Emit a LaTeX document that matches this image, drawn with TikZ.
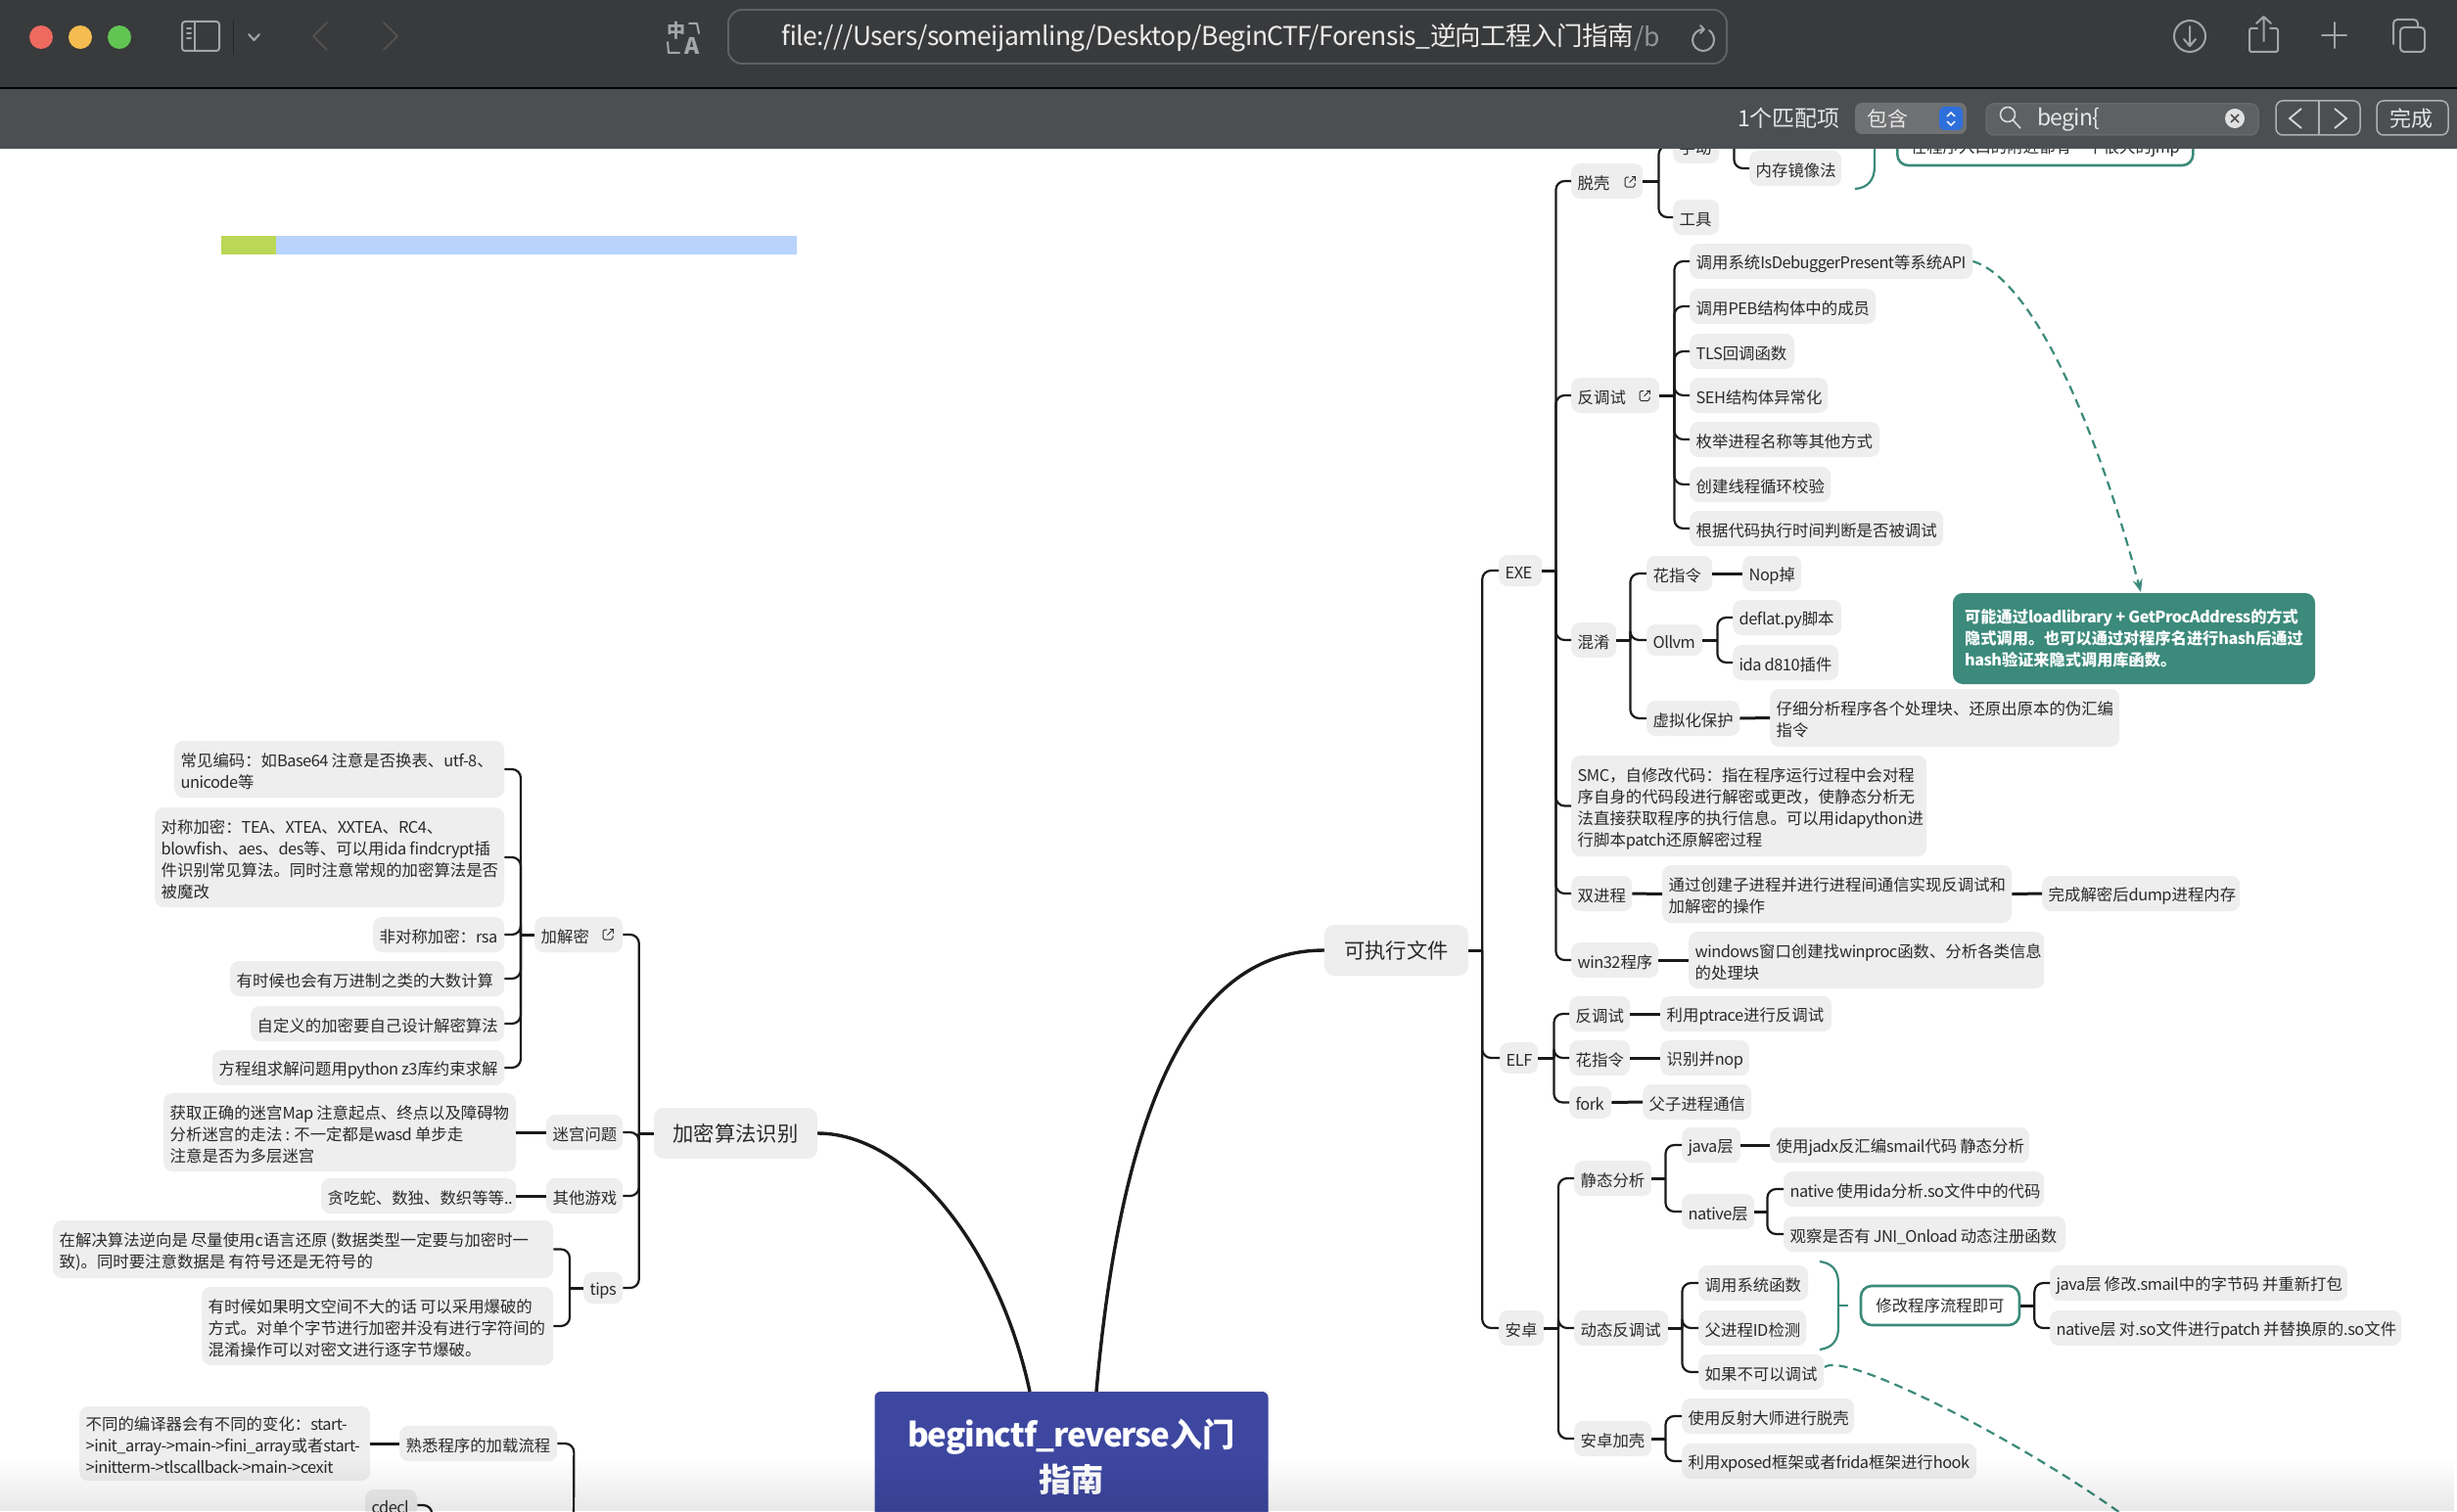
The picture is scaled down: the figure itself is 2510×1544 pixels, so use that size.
\documentclass[tikz,border=0pt]{standalone}
\usepackage{fontspec}
\setmainfont[LetterSpace=-3.2]{Noto Sans CJK SC}
\newfontfamily\cjkfam{Noto Sans CJK SC}
\newfontfamily\urlfam[LetterSpace=-2]{Noto Sans CJK SC}
\chardef\cjkcls=7
\newcount\cjkcc
\def\cjkrange#1#2{\cjkcc=#1 \loop\XeTeXcharclass\cjkcc=\cjkcls \ifnum\cjkcc<#2 \advance\cjkcc 1 \repeat}
\cjkrange{"3000}{"30FF}\cjkrange{"4E00}{"9FFF}\cjkrange{"FF00}{"FFEF}
\XeTeXinterchartoks 0 \cjkcls={\cjkfam}
\XeTeXinterchartoks \cjkcls 0={\rmfamily}
\XeTeXinterchartoks 4095 \cjkcls={\cjkfam}
\XeTeXinterchartoks \cjkcls 4095={\rmfamily}
\XeTeXinterchartokenstate=1
\newcommand{\urlsetup}{\XeTeXinterchartokenstate=0 \urlfam\fontsize{26.5}{32}\selectfont}
\usetikzlibrary{arrows.meta,fadings}
\definecolor{tealc}{HTML}{3B8A7B}
\definecolor{nodeg}{HTML}{EEEEEE}
\definecolor{linec}{HTML}{1A1A1A}
\definecolor{txtc}{HTML}{2A2A2A}
\definecolor{barA}{HTML}{393A3C}
\definecolor{barB}{HTML}{4C4F52}
\definecolor{iconc}{HTML}{A4A5A7}
\definecolor{rootc}{HTML}{3D47A0}
\tikzset{
  nb/.style={fill=nodeg,rounded corners=9pt,inner sep=0pt,text=txtc,font=\fontsize{16.4}{22}\selectfont},
  mainbox/.style={fill=nodeg,rounded corners=10pt,inner sep=0pt,text=txtc,font=\fontsize{21.3}{28}\selectfont},
  rootbox/.style={fill=rootc,rounded corners=6pt,inner sep=0pt,text=white,align=center,font=\fontsize{33.2}{46}\selectfont\bfseries},
  notebox/.style={fill=tealc,rounded corners=10pt,inner sep=0pt,text=white,align=left,font=\fontsize{16.2}{22}\selectfont\bfseries},
  whitebox/.style={fill=white,draw=tealc,line width=2.6pt,rounded corners=11pt,inner sep=0pt,text=txtc,font=\fontsize{16.4}{22}\selectfont},
  trk/.style={draw=linec,line width=2.2pt,rounded corners=9pt},
  stub/.style={draw=linec,line width=3pt},
  bigcurve/.style={draw=linec,line width=3.4pt},
  tealline/.style={draw=tealc,line width=2.2pt},
  teallink/.style={draw=tealc,line width=2.2pt,dash pattern=on 9pt off 6pt,-{Stealth[length=13pt,width=10pt]}},
  teallinknt/.style={draw=tealc,line width=2.2pt,dash pattern=on 9pt off 6pt},
  linkicon/.style={draw=txtc,line width=1pt,rounded corners=1.5pt},
  icon/.style={draw=iconc,line width=2pt,line cap=round,line join=round},
  dimicon/.style={draw=black!50!iconc,line width=2pt,line cap=round,line join=round},
  bartext/.style={text=white!90!black,inner sep=0pt,anchor=west,font=\fontsize{23}{28}\selectfont},
  urltext/.style={text=white!92!black,inner sep=0pt,anchor=west,font=\urlsetup},
}
\newcommand{\st}{\rule[-2.8pt]{0pt}{22pt}}
\newcommand{\bx}[6]{%
  \pgfmathsetmacro\bxw{#4-#2-13}\pgfmathsetmacro\bxh{#5-#3}\pgfmathsetmacro\bxy{(#3+#5)/2}%
  \node[nb,minimum height=\bxh pt,anchor=west,inner xsep=6.5pt](#1) at (#2,\bxy)
    {\hbox to \bxw pt{\vbox{\hsize=1500pt\parindent=0pt\rightskip=0pt plus 1fil\lineskiplimit=-60pt\let\\=\par\st #6\st}\hss}};}
\newcommand{\treeR}[3]{\foreach \c in {#3}{\draw[trk](#1.east)++(#2,0)|-(\c.west);}\draw[stub](#1.east)--++(#2,0);}
\newcommand{\treeL}[3]{\foreach \c in {#3}{\draw[trk](#1.west)++(#2,0)|-(\c.east);}\draw[stub](#1.west)--++(#2,0);}
\newcommand{\lnk}[2]{\draw[stub](#1.east)--(#2.west);}
\newcommand{\lnkL}[2]{\draw[stub](#1.west)--(#2.east);}
\newcommand{\extlink}[2]{\begin{scope}[shift={(#1,#2)}]
  \draw[linkicon](-1,-5)--(-5,-5)--(-5,5)--(5,5)--(5,1);
  \draw[draw=txtc,line width=1pt](-0.5,0.5)--(5.5,-5.5);
  \draw[draw=txtc,line width=1pt](1.5,-5.5)--(5.5,-5.5)--(5.5,-1.5);
\end{scope}}
\begin{document}
\begin{tikzpicture}[x=1pt,y=-1pt]
\useasboundingbox (0,0) rectangle (2510,1544);
\fill[white] (0,0) rectangle (2510,1544);
% stray bar
\fill[fill={rgb,255:red,184;green,212;blue,252}] (226,241) rectangle (814,260);
\fill[fill={rgb,255:red,186;green,215;blue,85}] (226,241) rectangle (282,260);

% ---- central
\node[rootbox,minimum width=402pt,minimum height=134pt] (root) at (1094.5,1489) {beginctf\_reverse入门\\指南};
\node[mainbox,minimum width=147pt,minimum height=52pt] (exe) at (1426.5,971) {可执行文件};
\node[mainbox,minimum width=167pt,minimum height=52pt] (algo) at (751.5,1158) {加密算法识别};
\draw[bigcurve] (1120,1422) .. controls (1150,1080) and (1240,971) .. (exe.west);
\draw[bigcurve] (1052,1422) .. controls (1020,1272) and (926,1158) .. (algo.east);

% ---- right: EXE
\bx{nexe}{1531}{567}{1575}{599}{EXE}
\bx{tuoke}{1605}{167}{1678}{203}{脱壳}
\bx{shoudong}{1709}{131}{1756}{167}{手动}
\bx{neicun}{1787}{154}{1881}{190}{内存镜像法}
\bx{gongju}{1709}{204}{1756}{240}{工具}
\bx{fantiao}{1605}{386}{1695}{422}{反调试}
\bx{a1}{1726}{249}{2015}{285}{调用系统IsDebuggerPresent等系统API}
\bx{a2}{1726}{295}{1916}{331}{调用PEB结构体中的成员}
\bx{a3}{1726}{341}{1833}{377}{TLS回调函数}
\bx{a4}{1726}{386}{1867}{422}{SEH结构体异常化}
\bx{a5}{1726}{431}{1920}{467}{枚举进程名称等其他方式}
\bx{a6}{1726}{477}{1870}{513}{创建线程循环校验}
\bx{a7}{1726}{522}{1985}{558}{根据代码执行时间判断是否被调试}
\bx{hunxiao}{1605}{636}{1651}{672}{混淆}
\bx{huazhi}{1682}{568}{1749}{604}{花指令}
\bx{nop}{1780}{568}{1840}{604}{Nop掉}
\bx{ollvm}{1682}{638}{1739}{670}{Ollvm}
\bx{deflat}{1770}{613}{1881}{649}{deflat.py脚本}
\bx{d810}{1770}{659}{1878}{695}{ida d810插件}
\bx{xuni}{1682}{716}{1777}{752}{虚拟化保护}
\bx{zixi}{1808}{704}{2165}{763}{仔细分析程序各个处理块、还原出原本的伪汇编\\指令}
\bx{smc}{1605}{772}{1968}{875}{SMC，自修改代码：指在程序运行过程中会对程\\序自身的代码段进行解密或更改，使静态分析无\\法直接获取程序的执行信息。可以用idapython进\\行脚本patch还原解密过程}
\bx{shuang}{1605}{895}{1667}{931}{双进程}
\bx{tongguo}{1698}{884}{2055}{943}{通过创建子进程并进行进程间通信实现反调试和\\加解密的操作}
\bx{wancheng}{2086}{895}{2288}{931}{完成解密后dump进程内存}
\bx{win}{1605}{963}{1694}{999}{win32程序}
\bx{winp}{1725}{952}{2088}{1010}{windows窗口创建找winproc函数、分析各类信息\\的处理块}
\extlink{1665}{186}
\extlink{1680}{404.5}
% ---- ELF
\bx{elf}{1532}{1065}{1571}{1097}{ELF}
\bx{e1}{1603}{1018}{1665}{1054}{反调试}
\bx{e1b}{1696}{1018}{1871}{1054}{利用ptrace进行反调试}
\bx{e2}{1603}{1063}{1665}{1099}{花指令}
\bx{e2b}{1696}{1063}{1787}{1099}{识别并nop}
\bx{e3}{1603}{1110}{1646}{1143}{fork}
\bx{e3b}{1678}{1108}{1789}{1144}{父子进程通信}
% ---- Android
\bx{anzhuo}{1531}{1339}{1577}{1375}{安卓}
\bx{jingtai}{1608}{1186}{1687}{1222}{静态分析}
\bx{javac}{1718}{1152}{1778}{1188}{java层}
\bx{jadx}{1808}{1152}{2073}{1188}{使用jadx反汇编smail代码 静态分析}
\bx{nativec}{1718}{1220}{1792}{1256}{native层}
\bx{n1}{1822}{1197}{2088}{1233}{native 使用ida分析.so文件中的代码}
\bx{n2}{1822}{1243}{2110}{1279}{观察是否有 JNI\_Onload  动态注册函数}
\bx{dongtai}{1608}{1339}{1704}{1375}{动态反调试}
\bx{d1}{1735}{1293}{1847}{1329}{调用系统函数}
\bx{d2}{1735}{1339}{1845}{1375}{父进程ID检测}
\bx{d3}{1735}{1384}{1863}{1420}{如果不可以调试}
\node[whitebox,minimum width=162pt,minimum height=40pt] (xiugai) at (1982,1334) {修改程序流程即可};
\bx{x1}{2094}{1293}{2398}{1329}{java层 修改.smail中的字节码 并重新打包}
\bx{x2}{2094}{1339}{2453}{1375}{native层 对.so文件进行patch 并替换原的.so文件}
\bx{jiake}{1608}{1452}{1687}{1488}{安卓加壳}
\bx{j1}{1718}{1429}{1894}{1465}{使用反射大师进行脱壳}
\bx{j2}{1718}{1475}{2019}{1511}{利用xposed框架或者frida框架进行hook}

\treeR{exe}{14}{nexe,elf,anzhuo}
\treeR{nexe}{14}{tuoke,fantiao,hunxiao,smc,shuang,win}
\treeR{tuoke}{16}{shoudong,gongju}
\treeR{shoudong}{15}{neicun}
\treeR{fantiao}{15}{a1,a2,a3,a4,a5,a6,a7}
\treeR{hunxiao}{14}{huazhi,ollvm,xuni}
\lnk{huazhi}{nop}
\treeR{ollvm}{15}{deflat,d810}
\lnk{xuni}{zixi}
\lnk{shuang}{tongguo}
\lnk{tongguo}{wancheng}
\lnk{win}{winp}
\treeR{elf}{16}{e1,e2,e3}
\lnk{e1}{e1b}\lnk{e2}{e2b}\lnk{e3}{e3b}
\treeR{anzhuo}{14.5}{jingtai,dongtai,jiake}
\treeR{jingtai}{14}{javac,nativec}
\lnk{javac}{jadx}
\treeR{nativec}{13}{n1,n2}
\treeR{dongtai}{14}{d1,d2,d3}
\treeR{xiugai}{14}{x1,x2}
\treeR{jiake}{14}{j1,j2}

% teal relations
\node[notebox,minimum width=370pt,minimum height=93pt] (note1) at (2180,652.5) {可能通过loadlibrary  + GetProcAddress的方式\\隐式调用。也可以通过对程序名进行hash后通过\\hash验证来隐式调用库函数。};
\draw[teallink] (a1.east) .. controls (2075,285) and (2140,430) .. (2187,605);
\coordinate (offb) at (2166,1546);
\draw[teallinknt] (1864,1397) .. controls (1884,1380) and (2060,1470) .. (offb);
\coordinate (brt) at (1859,1289);
\coordinate (brb) at (1859,1379);
\coordinate (bmid) at (1878,1334);
\coordinate (bm) at (1888,1334);
\draw[tealline] (brt) .. controls (1872,1291) and (1878,1298) .. (1878,1312) -- (bmid) -- (1878,1356) .. controls (1878,1370) and (1872,1377) .. (brb);
\draw[tealline] (bmid) -- (bm);
\node[whitebox,minimum width=302pt,minimum height=41pt,anchor=west] (note2) at (1937,148.5) {\st 在程序入口的附近都有一个很大的jmp};
\coordinate (b2a) at (1895,193);
\coordinate (b2b) at (1915,130);
\draw[tealline] (b2a) .. controls (1908,192) and (1915,184) .. (1915,170) -- (b2b);

% ---- left: algo
\bx{jiajie}{546}{937}{636}{973}{加解密}
\bx{l1}{178}{757}{515}{815}{常见编码：如Base64 注意是否换表、utf-8、\\unicode等}
\bx{l2}{158}{825}{515}{927}{对称加密：TEA、XTEA、XXTEA、RC4、\\blowfish、aes、des等、可以用ida findcrypt插\\件识别常见算法。同时注意常规的加密算法是否\\被魔改}
\bx{l3}{381}{937}{515}{973}{非对称加密：rsa}
\bx{l4}{235}{982}{515}{1018}{有时候也会有万进制之类的大数计算}
\bx{l5}{256}{1028}{515}{1064}{自定义的加密要自己设计解密算法}
\bx{l6}{217}{1073}{515}{1109}{方程组求解问题用python z3库约束求解}
\bx{migong}{558}{1139}{636}{1175}{迷宫问题}
\bx{mg}{167}{1117}{527}{1197}{获取正确的迷宫Map 注意起点、终点以及障碍物\\分析迷宫的走法 : 不一定都是wasd 单步走\\注意是否为多层迷宫}
\bx{qita}{558}{1204}{636}{1240}{其他游戏}
\bx{tan}{328}{1204}{527}{1240}{贪吃蛇、数独、数织等等..}
\bx{tips}{596}{1300}{636}{1332}{tips}
\bx{t1}{54}{1247}{565}{1306}{在解决算法逆向是 尽量使用c语言还原 (数据类型一定要与加密时一\\致)。同时要注意数据是 有符号还是无符号的}
\bx{t2}{206}{1315}{565}{1395}{有时候如果明文空间不大的话 可以采用爆破的\\方式。对单个字节进行加密并没有进行字符间的\\混淆操作可以对密文进行逐字节爆破。}
\bx{shuxi}{408}{1457}{569}{1493}{熟悉程序的加载流程}
\bx{bianyi}{81}{1437}{378}{1513}{不同的编译器会有不同的变化：start-\\>init\_array->main->fini\_array或者start-\\>initterm->tlscallback->main->cexit}
\bx{cdecl}{373}{1522}{426}{1554}{cdecl}
\extlink{621}{955}
\treeL{algo}{-15}{jiajie,migong,qita,tips}
\treeL{jiajie}{-14}{l1,l2,l3,l4,l5,l6}
\lnkL{migong}{mg}
\lnkL{qita}{tan}
\treeL{tips}{-14}{t1,t2}
\lnkL{shuxi}{bianyi}
\coordinate (sxend) at (586,1560);
\coordinate (cdend) at (441,1560);
\draw[trk] (shuxi.east) -- ++(17,0) -- (sxend);
\draw[trk] (cdecl.east) -- ++(15,0) -- (cdend);

% bottom shadow
\fill[black,opacity=0.09,path fading=north] (0,1490) rectangle (2510,1544);

% ---- window chrome
\fill[barA] (0,0) rectangle (2510,89);
\fill[black] (0,89) rectangle (2510,91);
\fill[barB] (0,91) rectangle (2510,152);
\fill[fill={rgb,255:red,238;green,106;blue,95}] (42,38) circle[radius=12];
\fill[fill={rgb,255:red,245;green,189;blue,79}] (82,38) circle[radius=12];
\fill[fill={rgb,255:red,97;green,197;blue,84}] (122,38) circle[radius=12];
\draw[icon,rounded corners=3pt] (186,22) rectangle (224,52);
\draw[icon] (199,22)--(199,52);
\draw[icon] (191,29)--(195,29) (191,34)--(195,34) (191,39)--(195,39);
\draw[draw=black!35!barA,line width=1pt] (238,20)--(238,56);
\draw[icon] (254,35)--(259.5,41)--(265,35);
\draw[dimicon] (334,23)--(320,37)--(334,51);
\draw[dimicon] (392,23)--(406,37)--(392,51);
\node[text=iconc,inner sep=0pt,font=\fontsize{19}{20}\selectfont\bfseries] (tz) at (691,31) {中};
\node[text=iconc,inner sep=0pt,font=\fontsize{23}{24}\selectfont\bfseries] (ta) at (707,47) {A};
\draw[icon] (704,24)--(712,24)--(714,34) (682,43)--(683,54)--(694,54);
\fill[barA,draw=barB!90!white,line width=2pt,rounded corners=14pt] (744,10) rectangle (1764,65);
\node[urltext] (url) at (798,39) {file:///Users/someijamling/Desktop/BeginCTF/Forensis\_逆向工程入门指南};
\node[urltext,text=white!45!barA,anchor=west] (urlb) at (url.east) {/b};
\draw[icon] (1746,31) .. controls (1749,33) and (1751,37) .. (1751,41) .. controls (1751,47) and (1746,52) .. (1740,52) .. controls (1734,52) and (1729,47) .. (1729,41) .. controls (1729,35) and (1734,30) .. (1740,30);
\draw[icon] (1737,26)--(1741,30)--(1737,34);
\draw[icon] (2237,37) circle[radius=16];
\draw[icon] (2237,27)--(2237,47) (2231,40)--(2237,47)--(2243,40);
\draw[icon,rounded corners=2pt] (2306,29)--(2298,29)--(2298,53)--(2327,53)--(2327,29)--(2319,29);
\draw[icon] (2312.5,42)--(2312.5,17) (2305,24)--(2312.5,17)--(2320,24);
\draw[icon] (2372,36)--(2397,36) (2384.5,23)--(2384.5,49);
\draw[icon,rounded corners=4pt] (2445,45)--(2445,20)--(2470,20)--(2470,28);
\draw[icon,rounded corners=4pt] (2452,28) rectangle (2477,53);
% find bar
\node[bartext] (cnt) at (1775,121) {1个匹配项};
\fill[fill={rgb,255:red,111;green,113;blue,115},rounded corners=7pt] (1895,105) rectangle (2009,137);
\node[bartext,font=\fontsize{21}{24}\selectfont] (bh) at (1907,121) {包含};
\fill[fill={rgb,255:red,47;green,111;blue,219},rounded corners=5pt] (1981,109) rectangle (2005,133);
\draw[draw=white,line width=1.4pt] (1989,119)--(1993,115)--(1997,119) (1989,124)--(1993,128)--(1997,124);
\fill[fill=barB!90!white,draw=barB!85!white,line width=1.5pt,rounded corners=8pt] (2029,106) rectangle (2307,138);
\draw[draw=white!85!black,line width=1.6pt] (2051,117) circle[radius=7.5] (2056.5,123)--(2064,131);
\node[bartext] (findt) at (2081,122) {begin\{};
\fill[white!88!black] (2283,121) circle[radius=10];
\draw[draw=barB,line width=1.6pt] (2279,117)--(2287,125) (2287,117)--(2279,125);
\draw[draw=white!55!barB,line width=1.5pt,rounded corners=7pt] (2325,103) rectangle (2411,138);
\draw[draw=white!55!barB,line width=1.2pt] (2369,103)--(2369,138);
\draw[draw=white!85!black,line width=1.8pt] (2351,111)--(2339,121)--(2351,131) (2385,111)--(2397,121)--(2385,131);
\draw[draw=white!55!barB,line width=1.5pt,rounded corners=7pt] (2428,103) rectangle (2501,138);
\node[bartext,anchor=center,font=\fontsize{22}{24}\selectfont] (wc) at (2463,121) {完成};
\end{tikzpicture}
\end{document}
